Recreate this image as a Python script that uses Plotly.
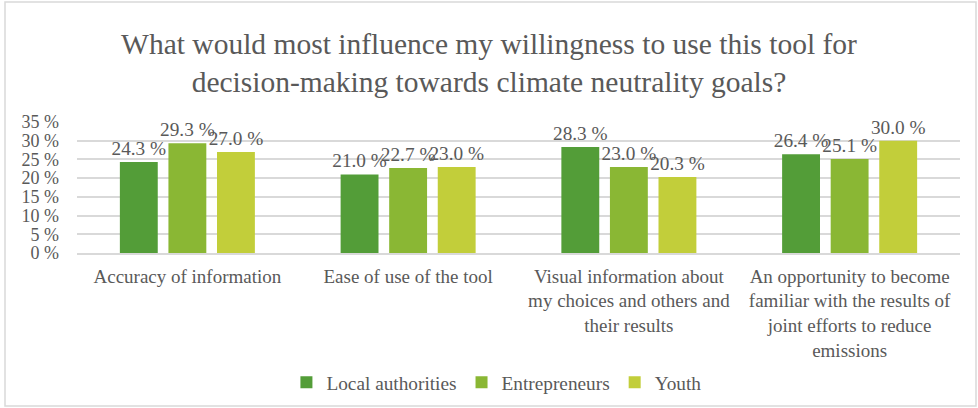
import plotly.graph_objects as go

categories = [
    "Accuracy of information",
    "Ease of use of the tool",
    "Visual information about<br>my choices and others and<br>their results",
    "An opportunity to become<br>familiar with the results of<br>joint efforts to reduce<br>emissions",
]
local_authorities = [24.3, 21.0, 28.3, 26.4]
entrepreneurs = [29.3, 22.7, 23.0, 25.1]
youth = [27.0, 23.0, 20.3, 30.0]
series_names = ["Local authorities", "Entrepreneurs", "Youth"]
series_colors = ["#539D38", "#8AB734", "#C2CE3A"]
y_ticks = [0, 5, 10, 15, 20, 25, 30, 35]
y_tick_labels = [f"{v} %" for v in y_ticks]

FONT = "Liberation Serif"
TEXT_COLOR = "#595959"
SIZE = 19.3

fig = go.Figure()
for name, vals, color in zip(series_names, [local_authorities, entrepreneurs, youth], series_colors):
    fig.add_trace(go.Bar(
        x=categories, y=vals, name=name,
        marker=dict(color=color, line=dict(width=0)),
        text=[f"{v:.1f} %" for v in vals],
        textposition="outside",
        constraintext="none",
        textfont=dict(family=FONT, size=SIZE, color=TEXT_COLOR),
        cliponaxis=False,
    ))

fig.update_layout(
    width=978, height=408,
    margin=dict(l=77, r=18, t=122, b=155, autoexpand=False),
    paper_bgcolor="white", plot_bgcolor="white",
    font=dict(family=FONT, color=TEXT_COLOR, size=SIZE),
    title=dict(
        text="What would most influence my willingness to use this tool for<br>decision-making towards climate neutrality goals?",
        x=0.5, xanchor="center", y=0.868, yanchor="top", yref="container",
        font=dict(family=FONT, size=29.5, color=TEXT_COLOR),
    ),
    barmode="group", bargap=0.34, bargroupgap=0.22,
    legend=dict(
        orientation="h", x=0.475, xanchor="center", y=-0.99, yanchor="middle",
        font=dict(family=FONT, size=SIZE, color=TEXT_COLOR),
        traceorder="normal",
    ),
    showlegend=True,
)
fig.update_xaxes(
    showgrid=False, showline=True, linecolor="#D9D9D9", linewidth=1.5,
    tickfont=dict(family=FONT, size=19, color=TEXT_COLOR),
    ticks="", ticklabelstandoff=5, automargin=False,
)
fig.update_yaxes(
    range=[0, 35], tickvals=y_ticks, ticktext=y_tick_labels,
    showgrid=True, gridcolor="#D9D9D9", gridwidth=1.5,
    zeroline=False, showline=False, ticks="",
    tickfont=dict(family=FONT, size=18, color=TEXT_COLOR),
    ticklabelstandoff=17, automargin=False,
)
# outer chart border
fig.add_shape(type="rect", xref="paper", yref="paper",
              x0=-72 / 883, x1=1 + 16 / 883, y0=-153 / 131, y1=1 + 120 / 131,
              line=dict(color="#D9D9D9", width=1.5), fillcolor="rgba(0,0,0,0)")

fig.write_html("out.html")
